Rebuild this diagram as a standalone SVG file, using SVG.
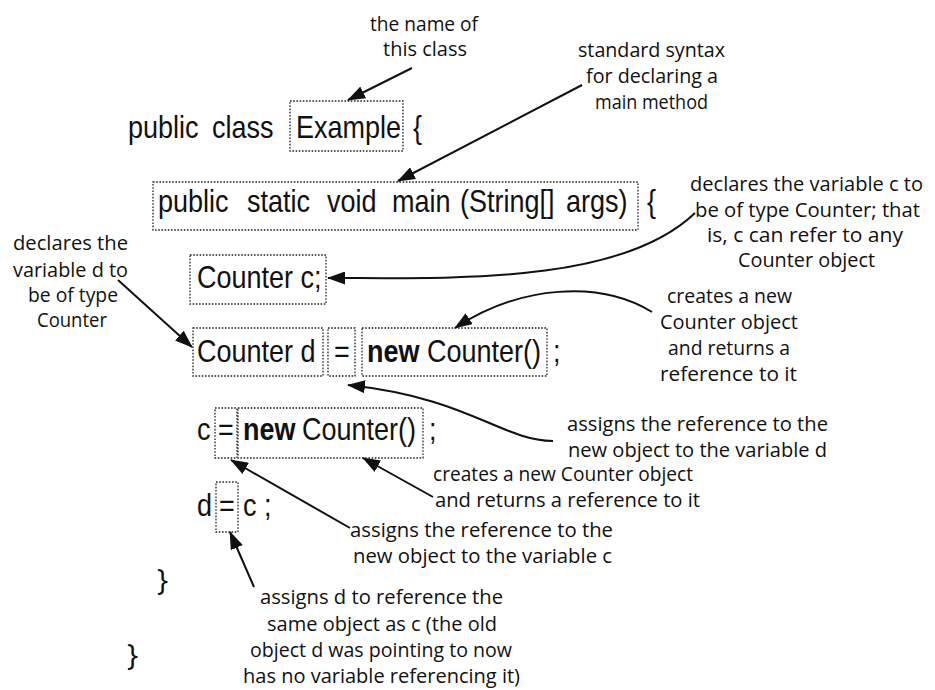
<svg xmlns="http://www.w3.org/2000/svg" width="935" height="690" viewBox="0 0 935 690">
<style>
.code{font-family:"Liberation Sans",Arial,sans-serif;font-size:27px;fill:#111}
.b{font-weight:bold}
.ann{font-family:"Open Sans","DejaVu Sans",sans-serif;font-size:20px;fill:#111}
.brace{font-family:"Open Sans","DejaVu Sans",sans-serif;font-size:30px;fill:#111}
.box{fill:none;stroke:#222;stroke-width:1.3;stroke-dasharray:1.6 1.6}
.con{fill:none;stroke:#111;stroke-width:2;marker-end:url(#ah)}
</style>
<defs>
<marker id="ah" viewBox="0 0 18 13" refX="17" refY="6.5" markerWidth="18" markerHeight="13" orient="auto" markerUnits="userSpaceOnUse">
<path d="M0,0 L18,6.5 L0,13 Z" fill="#111"/>
</marker>
</defs>
<rect width="935" height="690" fill="#fff"/>

<g id="line1">
<rect class="box" x="290" y="101" width="113" height="50"/>
<text class="code" transform="matrix(1 0 0 1.14 0 138)"><tspan x="128" y="0">public</tspan><tspan x="212" y="0">class</tspan><tspan x="296" y="0">Example</tspan><tspan x="413" y="0">{</tspan></text>
</g>
<g id="line2">
<rect class="box" x="153" y="182" width="485" height="48"/>
<text class="code" transform="matrix(1 0 0 1.14 0 212)"><tspan x="158" y="0">public</tspan><tspan x="247" y="0">static</tspan><tspan x="327" y="0">void</tspan><tspan x="392" y="0">main</tspan><tspan x="460" y="0">(String[]</tspan><tspan x="566" y="0">args)</tspan><tspan x="647" y="0">{</tspan></text>
</g>
<g id="line3">
<rect class="box" x="190" y="255" width="136" height="49"/>
<text class="code" transform="matrix(1 0 0 1.14 0 288)"><tspan x="197" y="0">Counter c;</tspan></text>
</g>
<g id="line4">
<rect class="box" x="193" y="328" width="130" height="48"/>
<rect class="box" x="328" y="328" width="27" height="48"/>
<rect class="box" x="362" y="328" width="185" height="48"/>
<text class="code" transform="matrix(1 0 0 1.14 0 362)"><tspan x="197" y="0">Counter d</tspan><tspan x="334" y="0">=</tspan><tspan class="b" x="367" y="0">new</tspan><tspan x="427" y="0">Counter()</tspan><tspan x="553" y="0">;</tspan></text>
</g>
<g id="line5">
<rect class="box" x="215" y="408" width="22" height="50"/>
<rect class="box" x="238" y="408" width="185" height="50"/>
<text class="code" transform="matrix(1 0 0 1.14 0 440)"><tspan x="197" y="0">c</tspan><tspan x="218" y="0">=</tspan><tspan class="b" x="243" y="0">new</tspan><tspan x="302" y="0">Counter()</tspan><tspan x="429" y="0">;</tspan></text>
</g>
<g id="line6">
<rect class="box" x="216" y="482" width="22" height="50"/>
<text class="code" transform="matrix(1 0 0 1.14 0 516)"><tspan x="197" y="0">d</tspan><tspan x="219" y="0">=</tspan><tspan x="243" y="0">c</tspan><tspan x="264" y="0">;</tspan></text>
</g>
<g id="braces">
<text class="brace" x="157" y="590">}</text>
<text class="brace" x="127" y="665">}</text>
</g>

<g id="noteClassName">
<text class="ann" x="370" y="31" textLength="108" lengthAdjust="spacingAndGlyphs">the name of</text>
<text class="ann" x="383" y="56" textLength="84" lengthAdjust="spacingAndGlyphs">this class</text>
</g>
<g id="noteMain">
<text class="ann" x="578" y="57" textLength="147" lengthAdjust="spacingAndGlyphs">standard syntax</text>
<text class="ann" x="586" y="83" textLength="132" lengthAdjust="spacingAndGlyphs">for declaring a</text>
<text class="ann" x="595" y="109" textLength="113" lengthAdjust="spacingAndGlyphs">main method</text>
</g>
<g id="noteDeclC">
<text class="ann" x="690" y="191" textLength="233" lengthAdjust="spacingAndGlyphs">declares the variable c to</text>
<text class="ann" x="695" y="217" textLength="225" lengthAdjust="spacingAndGlyphs">be of type Counter; that</text>
<text class="ann" x="707" y="242" textLength="196" lengthAdjust="spacingAndGlyphs">is, c can refer to any</text>
<text class="ann" x="738" y="267" textLength="137" lengthAdjust="spacingAndGlyphs">Counter object</text>
</g>
<g id="noteNew1">
<text class="ann" x="667" y="303" textLength="125" lengthAdjust="spacingAndGlyphs">creates a new</text>
<text class="ann" x="660" y="329" textLength="138" lengthAdjust="spacingAndGlyphs">Counter object</text>
<text class="ann" x="668" y="355" textLength="122" lengthAdjust="spacingAndGlyphs">and returns a</text>
<text class="ann" x="660" y="381" textLength="137" lengthAdjust="spacingAndGlyphs">reference to it</text>
</g>
<g id="noteAssignD">
<text class="ann" x="567" y="431" textLength="261" lengthAdjust="spacingAndGlyphs">assigns the reference to the</text>
<text class="ann" x="568" y="457" textLength="259" lengthAdjust="spacingAndGlyphs">new object to the variable d</text>
</g>
<g id="noteNew2">
<text class="ann" x="433" y="481" textLength="260" lengthAdjust="spacingAndGlyphs">creates a new Counter object</text>
<text class="ann" x="435" y="507" textLength="265" lengthAdjust="spacingAndGlyphs">and returns a reference to it</text>
</g>
<g id="noteAssignC">
<text class="ann" x="350" y="537" textLength="263" lengthAdjust="spacingAndGlyphs">assigns the reference to the</text>
<text class="ann" x="353" y="563" textLength="259" lengthAdjust="spacingAndGlyphs">new object to the variable c</text>
</g>
<g id="noteDEqC">
<text class="ann" x="260" y="604" textLength="243" lengthAdjust="spacingAndGlyphs">assigns d to reference the</text>
<text class="ann" x="267" y="631" textLength="230" lengthAdjust="spacingAndGlyphs">same object as c (the old</text>
<text class="ann" x="250" y="657" textLength="262" lengthAdjust="spacingAndGlyphs">object d was pointing to now</text>
<text class="ann" x="243" y="683" textLength="277" lengthAdjust="spacingAndGlyphs">has no variable referencing it)</text>
</g>
<g id="noteDeclD">
<text class="ann" x="13" y="250" textLength="115" lengthAdjust="spacingAndGlyphs">declares the</text>
<text class="ann" x="13" y="277" textLength="115" lengthAdjust="spacingAndGlyphs">variable d to</text>
<text class="ann" x="28" y="302" textLength="90" lengthAdjust="spacingAndGlyphs">be of type</text>
<text class="ann" x="37" y="327" textLength="70" lengthAdjust="spacingAndGlyphs">Counter</text>
</g>

<g id="connectors">
<path class="con" d="M412,68 L348,100"/>
<path class="con" d="M582,85 L398,181"/>
<path class="con" d="M695,213 C620,285 450,278 328,278"/>
<path class="con" d="M652,312 C600,280 520,285 455,328"/>
<path class="con" d="M553,441 C500,440 470,398 348,385"/>
<path class="con" d="M433,497 L363,458"/>
<path class="con" d="M350,528 L231,460"/>
<path class="con" d="M254,587 L230,532"/>
<path class="con" d="M118,280 L192,347"/>
</g>
</svg>
